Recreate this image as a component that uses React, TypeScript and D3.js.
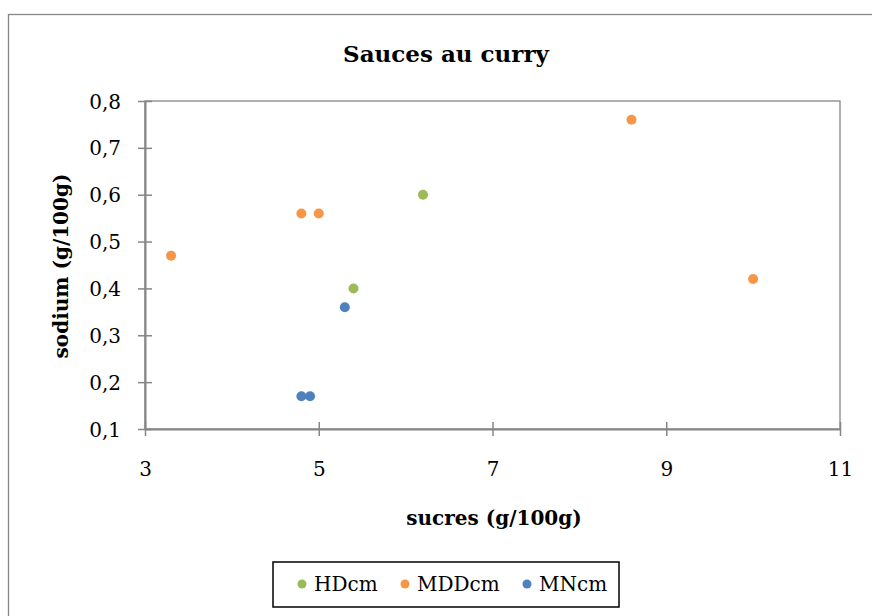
import { useEffect, useRef } from 'react';
import * as d3 from 'd3';

const title = 'Sauces au curry';
const xLabel = 'sucres (g/100g)';
const yLabel = 'sodium (g/100g)';

const xTicks = [3, 5, 7, 9, 11];
const yTicks = [0.1, 0.2, 0.3, 0.4, 0.5, 0.6, 0.7, 0.8];

const seriesNames = ['HDcm', 'MDDcm', 'MNcm'];
const seriesColors = ['#9BBB59', '#F79646', '#4F81BD'];

const hdcm = [
  { x: 6.2, y: 0.6 },
  { x: 5.4, y: 0.4 },
];
const mddcm = [
  { x: 3.3, y: 0.47 },
  { x: 4.8, y: 0.56 },
  { x: 5.0, y: 0.56 },
  { x: 8.6, y: 0.76 },
  { x: 10.0, y: 0.42 },
];
const mncm = [
  { x: 5.3, y: 0.36 },
  { x: 4.8, y: 0.17 },
  { x: 4.9, y: 0.17 },
];

const FONT = '"DejaVu Serif", "Liberation Serif", serif';

export default function App() {
  const svgRef = useRef<SVGSVGElement>(null);

  useEffect(() => {
    if (!svgRef.current) return;
    const svg = d3.select(svgRef.current);
    svg.selectAll('*').remove();

    const W = 872;
    const H = 616;
    const plot = { left: 145, top: 101, right: 840, bottom: 429 };
    const axisColor = '#868686';

    // outer chart border (runs off the right and bottom edges)
    svg
      .append('rect')
      .attr('x', 8.5)
      .attr('y', 14.5)
      .attr('width', W)
      .attr('height', H)
      .attr('fill', '#fff')
      .attr('stroke', axisColor)
      .attr('stroke-width', 1.3);

    const x = d3.scaleLinear().domain([3, 11]).range([plot.left, plot.right]);
    const y = d3.scaleLinear().domain([0.1, 0.8]).range([plot.bottom, plot.top]);

    // plot area frame
    svg
      .append('rect')
      .attr('x', plot.left)
      .attr('y', plot.top)
      .attr('width', plot.right - plot.left)
      .attr('height', plot.bottom - plot.top)
      .attr('fill', 'none')
      .attr('stroke', axisColor)
      .attr('stroke-width', 1.3);

    const fmt = (v: number) => d3.format('.1f')(v).replace('.', ',');

    // y axis
    const yAxis = svg
      .append('g')
      .attr('transform', `translate(${plot.left},0)`)
      .call(
        d3
          .axisLeft(y)
          .tickValues(yTicks)
          .tickSizeOuter(0)
          .tickFormat((d) => fmt(d as number))
      );
    yAxis.select('.domain').attr('stroke', axisColor).attr('stroke-width', 2);
    yAxis
      .selectAll('.tick line')
      .attr('x1', -7)
      .attr('x2', 7)
      .attr('stroke', axisColor)
      .attr('stroke-width', 1.5);
    yAxis
      .selectAll('.tick text')
      .attr('x', -24)
      .attr('dy', '0.35em')
      .style('font-family', FONT)
      .style('font-size', '20px')
      .style('fill', '#000');

    // x axis
    const xAxis = svg
      .append('g')
      .attr('transform', `translate(0,${plot.bottom})`)
      .call(d3.axisBottom(x).tickValues(xTicks).tickSizeOuter(0).tickFormat((d) => String(d)));
    xAxis.select('.domain').attr('stroke', axisColor).attr('stroke-width', 2);
    xAxis
      .selectAll('.tick line')
      .attr('y1', -7)
      .attr('y2', 7)
      .attr('stroke', axisColor)
      .attr('stroke-width', 1.5);
    xAxis
      .selectAll('.tick text')
      .attr('y', 47)
      .attr('dy', '0')
      .style('font-family', FONT)
      .style('font-size', '20px')
      .style('fill', '#000');

    // title and axis labels
    svg
      .append('text')
      .attr('x', 446)
      .attr('y', 62)
      .attr('text-anchor', 'middle')
      .style('font-family', FONT)
      .style('font-weight', 'bold')
      .style('font-size', '23px')
      .text(title);

    svg
      .append('text')
      .attr('x', 494)
      .attr('y', 525)
      .attr('text-anchor', 'middle')
      .style('font-family', FONT)
      .style('font-weight', 'bold')
      .style('font-size', '20px')
      .text(xLabel);

    svg
      .append('text')
      .attr('transform', `translate(68,266) rotate(-90)`)
      .attr('text-anchor', 'middle')
      .style('font-family', FONT)
      .style('font-weight', 'bold')
      .style('font-size', '20px')
      .text(yLabel);

    // points
    const allSeries = [hdcm, mddcm, mncm];
    allSeries.forEach((pts, i) => {
      svg
        .append('g')
        .selectAll('circle')
        .data(pts)
        .enter()
        .append('circle')
        .attr('cx', (d) => x(d.x))
        .attr('cy', (d) => y(d.y))
        .attr('r', 5)
        .attr('fill', seriesColors[i]);
    });

    // legend
    const legend = svg.append('g');
    legend
      .append('rect')
      .attr('x', 273)
      .attr('y', 562)
      .attr('width', 346)
      .attr('height', 45)
      .attr('fill', '#fff')
      .attr('stroke', '#000')
      .attr('stroke-width', 1.5);
    const legendX = [302, 405, 527];
    seriesNames.forEach((name, i) => {
      legend
        .append('circle')
        .attr('cx', legendX[i])
        .attr('cy', 584)
        .attr('r', 4.5)
        .attr('fill', seriesColors[i]);
      legend
        .append('text')
        .attr('x', legendX[i] + 12)
        .attr('y', 591)
        .style('font-family', FONT)
        .style('font-size', '20px')
        .text(name);
    });
  }, []);

  return (
    <svg
      ref={svgRef}
      width={872}
      height={616}
      style={{ position: 'absolute', left: 0, top: 0, background: '#fff' }}
    />
  );
}
